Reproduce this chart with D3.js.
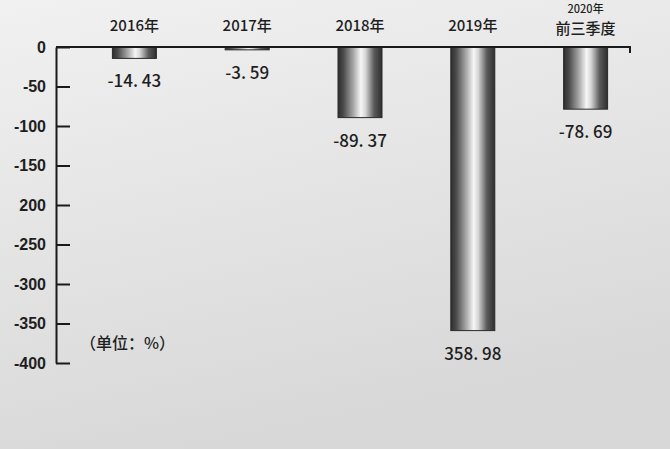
<!DOCTYPE html>
<html>
<head>
<meta charset="utf-8">
<script src="https://cdn.jsdelivr.net/npm/d3@7"></script>
<style>
  html, body { margin: 0; padding: 0; }
  body { width: 670px; height: 449px; overflow: hidden; }
</style>
</head>
<body>
<div id="chart"></div>
<script>
const categories = ["2016年", "2017年", "2018年", "2019年", "2020年\n前三季度"];
const values = [-14.43, -3.59, -89.37, -358.98, -78.69];
const valueLabels = ["-14. 43", "-3. 59", "-89. 37", "358. 98", "-78. 69"];
const tickValues = [0, -50, -100, -150, -200, -250, -300, -350, -400];
const tickLabels = ["0", "-50", "-100", "-150", "200", "-250", "-300", "-350", "-400"];
const unitText = "（单位：%）";

const width = 670, height = 449;
const axisX = 56;
const axisEnd = 630;

const svg = d3.select("#chart")
    .append("svg")
    .attr("width", width)
    .attr("height", height);

const defs = svg.append("defs");

// background, light grey fading down
const bg = defs.append("linearGradient")
    .attr("id", "bg")
    .attr("x1", 0).attr("y1", 0).attr("x2", 0.3).attr("y2", 1);
bg.append("stop").attr("offset", "0%").attr("stop-color", "#f1f1f1");
bg.append("stop").attr("offset", "100%").attr("stop-color", "#d8d8d8");

// cylinder shading for bars
const cyl = defs.append("linearGradient")
    .attr("id", "cyl")
    .attr("x1", 0).attr("y1", 0).attr("x2", 1).attr("y2", 0);
[["0%", "#2e2e2e"], ["12%", "#4a4a4a"], ["35%", "#a8a8a8"], ["52%", "#f6f6f6"],
 ["62%", "#d8d8d8"], ["82%", "#5a5a5a"], ["100%", "#2e2e2e"]]
    .forEach(([o, c]) => cyl.append("stop").attr("offset", o).attr("stop-color", c));

svg.append("rect")
    .attr("width", width)
    .attr("height", height)
    .attr("fill", "url(#bg)");

const x = d3.scaleBand()
    .domain(categories)
    .range([56, 664])
    .paddingInner(0.61)
    .paddingOuter(0.5);

const y = d3.scaleLinear()
    .domain([-400, 0])
    .range([363, 47]);

const textColor = "#1e1e1e";
const numFont = "'Liberation Sans Narrow', 'Liberation Sans', Arial, sans-serif";
const cjkFont = "'Noto Sans CJK SC', 'Noto Sans', sans-serif";

// bars
svg.selectAll(".bar")
    .data(values)
    .join("rect")
    .attr("class", "bar")
    .attr("x", (d, i) => x(categories[i]))
    .attr("y", y(0))
    .attr("width", x.bandwidth())
    .attr("height", d => y(d) - y(0))
    .attr("fill", "url(#cyl)")
    .attr("stroke", "#2a2a2a")
    .attr("stroke-width", 1);

// value labels under each bar
svg.selectAll(".val")
    .data(values)
    .join("text")
    .attr("class", "val")
    .attr("x", (d, i) => x(categories[i]) + x.bandwidth() / 2)
    .attr("y", d => y(d) + 29)
    .attr("text-anchor", "middle")
    .attr("fill", textColor)
    .style("font-family", cjkFont)
    .style("font-size", "17px")
    .style("font-weight", 500)
    .text((d, i) => valueLabels[i]);

// y axis with inward ticks
const yAxis = d3.axisLeft(y)
    .tickValues(tickValues)
    .tickFormat((d, i) => tickLabels[i])
    .tickSizeInner(-14)
    .tickSizeOuter(0)
    .tickPadding(10);

const gy = svg.append("g")
    .attr("transform", `translate(${axisX},0)`)
    .call(yAxis);
gy.select(".domain").attr("stroke", "#1a1a1a").attr("stroke-width", 2);
gy.selectAll(".tick line").attr("stroke", "#1a1a1a").attr("stroke-width", 2);
gy.selectAll(".tick text")
    .attr("fill", textColor)
    .style("font-family", numFont)
    .style("font-size", "16px")
    .style("font-weight", "bold");

// top baseline at zero with small hook at the right end
svg.append("path")
    .attr("d", d3.line()([[axisX, y(0)], [axisEnd, y(0)], [axisEnd, y(0) + 6]]))
    .attr("fill", "none")
    .attr("stroke", "#1a1a1a")
    .attr("stroke-width", 2);

// category labels above the chart, one text per line
const catLines = categories.flatMap(c => {
    const lines = c.split("\n");
    return lines.map((l, j) => ({cat: c, text: l, row: j, rows: lines.length}));
});

svg.selectAll(".cat")
    .data(catLines)
    .join("text")
    .attr("class", "cat")
    .attr("x", d => x(d.cat) + x.bandwidth() / 2)
    .attr("y", d => d.rows > 1 ? (d.row === 0 ? 13 : 34) : 31)
    .attr("text-anchor", "middle")
    .attr("fill", textColor)
    .style("font-family", cjkFont)
    .style("font-size", d => d.rows > 1 ? (d.row === 0 ? "11px" : "15px") : "15px")
    .style("font-weight", 500)
    .text(d => d.text);

// unit note
svg.append("text")
    .attr("x", 80)
    .attr("y", 349)
    .attr("fill", textColor)
    .style("font-family", cjkFont)
    .style("font-size", "16px")
    .style("font-weight", 500)
    .text(unitText);
</script>
</body>
</html>
